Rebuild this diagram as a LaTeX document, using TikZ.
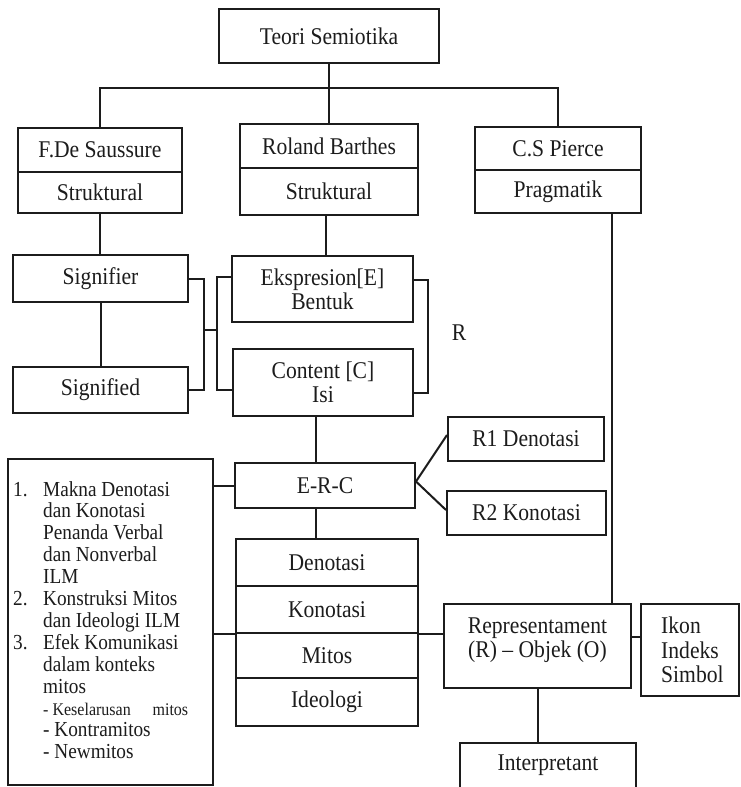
\documentclass[tikz,border=0pt]{standalone}
\usepackage{fontspec}
\setmainfont{Liberation Serif}[FakeStretch=0.9]
\newcommand\mainsz{\fontsize{24}{24}\selectfont}
\newcommand\listsz{\fontsize{21.4}{21.9}\selectfont}
\definecolor{ink}{HTML}{1C1C1C}
\begin{document}
\begin{tikzpicture}[x=1pt,y=-1pt,
  bx/.style={draw=ink, line width=2pt, inner sep=0pt, align=center, font=\mainsz, text=ink},
  lbl/.style={inner sep=0pt, align=center, font=\mainsz, text=ink},
  ln/.style={draw=ink, line width=2pt}]
\useasboundingbox (0,0) rectangle (741,787);
\clip (0,0) rectangle (741,787);
\fill[white] (0,0) rectangle (741,787);

% top level
\node[bx, minimum width=220pt, minimum height=54pt] (teori) at (329,36) {Teori Semiotika};

% the three schools
\node[bx, minimum width=164pt, minimum height=44pt] (saus)  at (100,150)   {F.De Saussure};
\node[bx, minimum width=164pt, minimum height=41pt] (sausS) at (100,192.5) {Struktural};
\node[bx, minimum width=178pt, minimum height=44pt] (barthes)  at (329,146)   {Roland Barthes};
\node[bx, minimum width=178pt, minimum height=47pt] (barthesS) at (329,191.5) {Struktural};
\node[bx, minimum width=166pt, minimum height=43pt] (pierce)  at (558,148.5) {C.S Pierce};
\node[bx, minimum width=166pt, minimum height=43pt] (pierceP) at (558,191.5) {Pragmatik};

% Saussure
\node[bx, minimum width=175pt, minimum height=47pt] (signifier) at (100.5,278.5) {Signifier};
\node[bx, minimum width=175pt, minimum height=46pt] (signified) at (100.5,390) {Signified};

% Barthes
\node[bx, minimum width=181pt, minimum height=66pt] (ekspresion) at (322.5,289) {Ekspresion[E]\\Bentuk};
\node[bx, minimum width=180pt, minimum height=67pt] (content) at (323,382.5) {Content [C]\\Isi};
\node[lbl] (rlabel) at (459,333) {R};
\node[bx, minimum width=180pt, minimum height=45pt] (erc) at (325,485.5) {E-R-C};
\node[bx, minimum width=156pt, minimum height=44pt] (r1) at (526,439) {R1 Denotasi};
\node[bx, minimum width=159pt, minimum height=44pt] (r2) at (526.5,513) {R2 Konotasi};

% levels of meaning
\node[bx, minimum width=182pt, minimum height=47pt] (deno)  at (327,562.5) {Denotasi};
\node[bx, minimum width=182pt, minimum height=47pt] (kono)  at (327,609.5) {Konotasi};
\node[bx, minimum width=182pt, minimum height=45pt] (mitos) at (327,655.5) {Mitos};
\node[bx, minimum width=182pt, minimum height=48pt] (ideo)  at (327,702)   {Ideologi};

% analysis list
\node[bx, minimum width=205pt, minimum height=326pt] (leftbox) at (110.5,622) {};
\node[inner sep=0pt, anchor=base west, text=ink] (leftlist) at (13,496) {\parbox[t]{198pt}{\listsz\raggedright
\makebox[30pt][l]{1.}Makna Denotasi\\
\hspace*{30pt}dan Konotasi\\
\hspace*{30pt}Penanda Verbal\\
\hspace*{30pt}dan Nonverbal\\
\hspace*{30pt}ILM\\
\makebox[30pt][l]{2.}Konstruksi Mitos\\
\hspace*{30pt}dan Ideologi ILM\\
\makebox[30pt][l]{3.}Efek Komunikasi\\
\hspace*{30pt}dalam konteks\\
\hspace*{30pt}mitos\\
\hspace*{30pt}\makebox[145pt][s]{\fontsize{17.8}{21.9}\selectfont - Keselarusan\hfill mitos}\\
\hspace*{30pt}- Kontramitos\\
\hspace*{30pt}- Newmitos}};

% Pierce
\node[bx, minimum width=187pt, minimum height=84pt] (repr) at (537.5,646) {};
\node[lbl] (reprtext) at (537.5,640) {Representament\\(R) – Objek (O)};
\node[bx, minimum width=98pt, minimum height=92pt] (ikon) at (690,650) {};
\node[inner sep=0pt, anchor=west, align=left, text=ink, font=\fontsize{24}{24.5}\selectfont] (ikontext) at (661,650) {Ikon\\Indeks\\Simbol};
\node[bx, minimum width=176pt, minimum height=57pt] (interp) at (548,771.5) {};
\node[lbl] (interptext) at (548,765) {Interpretant};

% tree from the root
\coordinate (bar) at (329,88);
\draw[ln] (teori.south) -- (bar);
\draw[ln] (saus.north) |- (bar) -| (pierce.north);
\draw[ln] (bar) -- (barthes.north);

% Saussure branch
\draw[ln] (sausS.south) -- (sausS.south |- signifier.north);
\draw[ln] (signifier.south) -- (signifier.south |- signified.north);
\draw[ln] (signifier.east) -- ++(15,0) |- (signified.east);
\coordinate (midL) at (203,330);
\coordinate (midR) at (217,330);
\draw[ln] (midL) -- (midR);
\draw[ln] ([yshift=12pt]ekspresion.west) -| (midR) |- ([yshift=-7.5pt]content.west);

% Barthes branch
\draw[ln] ([xshift=-3pt]barthesS.south) -- ([xshift=-3pt]barthesS.south |- ekspresion.north);
\draw[ln] ([yshift=9pt]ekspresion.east) -- ++(14,0) |- ([yshift=-10.5pt]content.east);
\draw[ln] ([xshift=-7pt]content.south) -- ([xshift=-7pt]content.south |- erc.north);
\draw[ln] ([xshift=-9pt]erc.south) -- ([xshift=-9pt]erc.south |- deno.north);
\draw[ln] ([yshift=4pt]r1.west) -- ([yshift=4pt]erc.east) -- ([yshift=3pt]r2.west);
\draw[ln] (erc.west) -- (erc.west -| leftbox.east);
\draw[ln] (kono.south west) -- (kono.south west -| leftbox.east);
\draw[ln] (kono.south east) -- (kono.south east -| repr.west);

% Pierce branch
\draw[ln] ([xshift=54pt]pierceP.south) -- ([xshift=54pt]pierceP.south |- repr.north);
\draw[ln] ([yshift=9pt]repr.east) -- ([yshift=9pt]repr.east -| ikon.west);
\draw[ln] (repr.south) -- (repr.south |- interp.north);
\end{tikzpicture}
\end{document}
